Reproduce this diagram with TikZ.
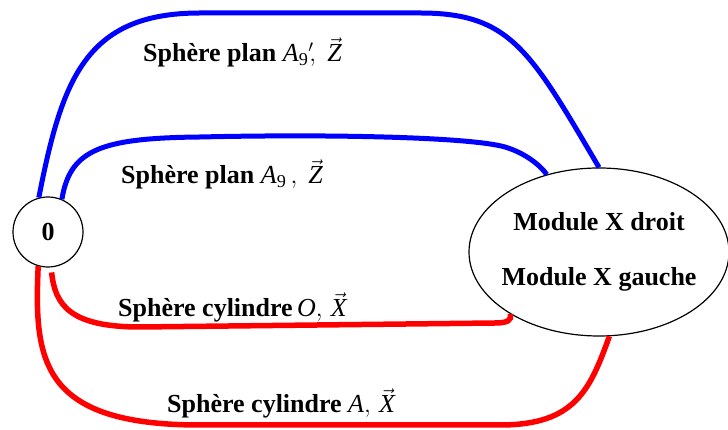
\documentclass[tikz,border=0pt]{standalone}
\usepackage{amsmath}
\usepackage{fontspec}
\setmainfont{Liberation Serif}
\usepackage{tikz}
\usetikzlibrary{shapes.geometric, calc}
\definecolor{PathBlue}{RGB}{0,0,255}
\definecolor{PathRed}{RGB}{255,0,0}
\newcommand{\mvar}[1]{\text{\mdseries\itshape #1}}
\newcommand{\mnum}[1]{\text{\mdseries\upshape #1}}

\begin{document}
\begin{tikzpicture}[x=1pt, y=1pt,
  state/.style={draw, circle, line width=1.2pt, minimum size=70pt,
                inner sep=0pt, font=\fontsize{26}{30}\selectfont\bfseries},
  module/.style={draw, ellipse, line width=1.2pt, minimum width=260pt,
                 minimum height=168pt, inner xsep=-40pt, inner ysep=-30pt,
                 align=center, font=\fontsize{26}{30}\selectfont\bfseries},
  lbl/.style={anchor=base west, inner sep=0pt,
              font=\fontsize{26}{30}\selectfont\bfseries},
  plan/.style={draw=PathBlue, line width=5pt},
  cyl/.style={draw=PathRed, line width=5.5pt},
]
\useasboundingbox (0,0) rectangle (728,430);

\node[state] (zero) at (48,198) {0};
\node[module] (mod) at (599,178) {Module X droit\\[25pt]Module X gauche};

% plans (blue)
\draw[plan] (zero.105) .. controls (62,350) and (85,417) .. (200,417)
  -- (420,417) .. controls (510,417) and (530,380) .. (mod.north);
\draw[plan] (zero.67) .. controls (70,280) and (100,292) .. (200,293)
  .. controls (330,296) and (470,293) .. (505,283)
  .. controls (525,277) and (540,265) .. (mod.124);

% cylindres (red)
\draw[cyl, shorten <=5pt] (zero.275) .. controls (55,125) and (70,103) .. (140,103)
  -- (495,107) .. controls (508,107) and (512,110) .. (mod.215);
\draw[cyl] (zero.254) .. controls (34,70) and (40,5) .. (200,5)
  -- (500,5) .. controls (575,5) and (590,40) .. (mod.277);

\node[lbl] (lplanB) at (143,368) {Sphère plan $\mvar{A}_{\mnum{9}}{}^{\prime}\!,\; \vec{\mvar{Z}}$};
\node[lbl] (lplanA) at (121,246) {Sphère plan $\mvar{A}_{\mnum{9}}\,,\; \vec{\mvar{Z}}$};
\node[lbl] (lcylO) at (118,113) {Sphère cylindre\,$\mvar{O},\, \vec{\mvar{X}}$};
\node[lbl] (lcylA) at (167,17) {Sphère cylindre $\mvar{A},\, \vec{\mvar{X}}$};
\end{tikzpicture}
\end{document}
